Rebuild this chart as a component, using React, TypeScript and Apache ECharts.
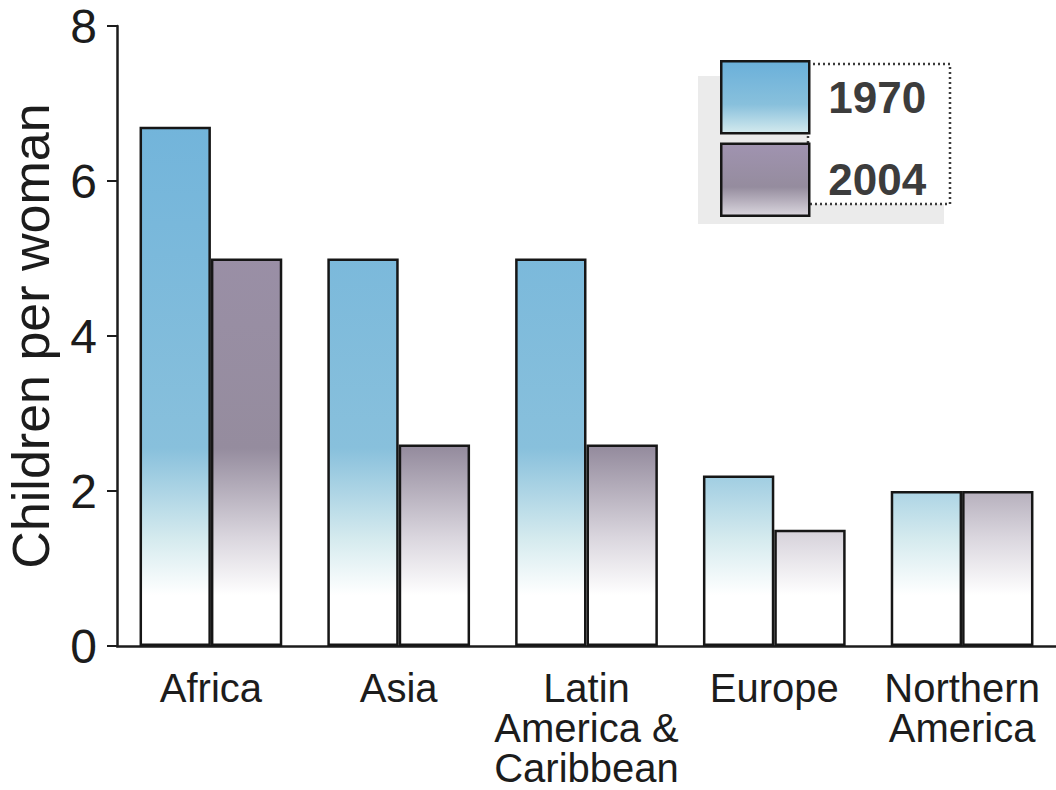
import React, { useEffect, useRef } from "react";
import * as echarts from "echarts";

// Total fertility rate by world region
const regions = ["Africa", "Asia", "Latin\nAmerica &\nCaribbean", "Europe", "Northern\nAmerica"];
const fertility1970 = [6.7, 5.0, 5.0, 2.2, 2.0];
const fertility2004 = [5.0, 2.6, 2.6, 1.5, 2.0];
const yearLabels = ["1970", "2004"];
const yTicks = { min: 0, max: 8, step: 2 };

const FONT = "'Liberation Sans', Arial, Helvetica, sans-serif";
const INK = "#1c1c1c";

// Fill fades towards white near the baseline; the fade is shared by all bars (global coordinates).
const barFill = (top: string, mid: string, pale: string) =>
  new echarts.graphic.LinearGradient(
    0, 0, 0, 640,
    [
      { offset: 0, color: top },
      { offset: 0.7, color: mid },
      { offset: 0.84, color: pale },
      { offset: 0.93, color: "#ffffff" },
      { offset: 1, color: "#ffffff" },
    ],
    true
  );

const swatchFill = (top: string, mid: string, pale: string) =>
  new echarts.graphic.LinearGradient(0, 0, 0, 1, [
    { offset: 0, color: top },
    { offset: 0.6, color: mid },
    { offset: 1, color: pale },
  ]);

const BLUE = ["#6ab0da", "#88c0dc", "#d4eaee"];
const MAUVE = ["#a093b0", "#958c9e", "#dad6de"];

export default function App() {
  const ref = useRef<HTMLDivElement>(null);

  useEffect(() => {
    if (!ref.current) return;
    const chart = echarts.init(ref.current, undefined, { renderer: "svg" });

    const barBorder = { borderColor: "#161616", borderWidth: 2.5 };

    chart.setOption({
      animation: false,
      backgroundColor: "#ffffff",
      textStyle: { fontFamily: FONT, color: INK },
      grid: {
        left: 117,
        right: 0,
        top: 26,
        bottom: 144,
        containLabel: false,
        outerBoundsMode: "none",
      },
      xAxis: {
        type: "category",
        data: regions,
        axisLine: { show: true, lineStyle: { color: INK, width: 2.5 } },
        axisTick: { show: false },
        axisLabel: {
          interval: 0,
          margin: 22,
          fontSize: 40,
          lineHeight: 40,
          color: INK,
          fontFamily: FONT,
          align: "center",
        },
      },
      yAxis: {
        type: "value",
        min: yTicks.min,
        max: yTicks.max,
        interval: yTicks.step,
        name: "Children per woman",
        nameLocation: "middle",
        nameRotate: 90,
        nameGap: 60,
        nameTextStyle: { fontSize: 52, color: INK, fontFamily: FONT },
        axisLine: { show: true, lineStyle: { color: INK, width: 2.5 } },
        axisTick: { show: true, length: 10, lineStyle: { color: INK, width: 2 } },
        axisLabel: { fontSize: 48, margin: 20, color: INK, fontFamily: FONT },
        splitLine: { show: false },
      },
      legend: {
        orient: "vertical",
        left: 720,
        top: 60,
        padding: 0,
        itemWidth: 88,
        itemHeight: 72,
        itemGap: 8,
        icon: "rect",
        textStyle: {
          fontSize: 44,
          fontWeight: "bold",
          color: "#3c3c3c",
          fontFamily: FONT,
          padding: [0, 0, 0, 14],
        },
        data: [
          { name: yearLabels[0], itemStyle: { color: swatchFill(BLUE[0], BLUE[1], BLUE[2]), ...barBorder } },
          { name: yearLabels[1], itemStyle: { color: swatchFill(MAUVE[0], MAUVE[1], MAUVE[2]), ...barBorder } },
        ],
      },
      graphic: [
        {
          // soft grey shadow behind the key
          type: "rect",
          z: -10,
          shape: { x: 698, y: 76, width: 246, height: 148 },
          style: { fill: "#ebebeb" },
        },
        {
          type: "rect",
          z: -5,
          shape: { x: 808, y: 64, width: 142, height: 140 },
          style: { fill: "#ffffff", stroke: "#3a3a3a", lineWidth: 2.5, lineDash: [2, 3] },
        },
      ],
      series: [
        {
          name: yearLabels[0],
          type: "bar",
          data: fertility1970,
          barGap: "0%",
          barCategoryGap: "24%",
          itemStyle: { color: barFill(BLUE[0], BLUE[1], BLUE[2]), ...barBorder },
        },
        {
          name: yearLabels[1],
          type: "bar",
          data: fertility2004,
          barGap: "0%",
          barCategoryGap: "24%",
          itemStyle: { color: barFill(MAUVE[0], MAUVE[1], MAUVE[2]), ...barBorder },
        },
      ],
    });

    return () => chart.dispose();
  }, []);

  return (
    <div
      ref={ref}
      style={{ position: "absolute", left: 0, top: 0, width: 1056, height: 790, background: "#fff" }}
    />
  );
}
